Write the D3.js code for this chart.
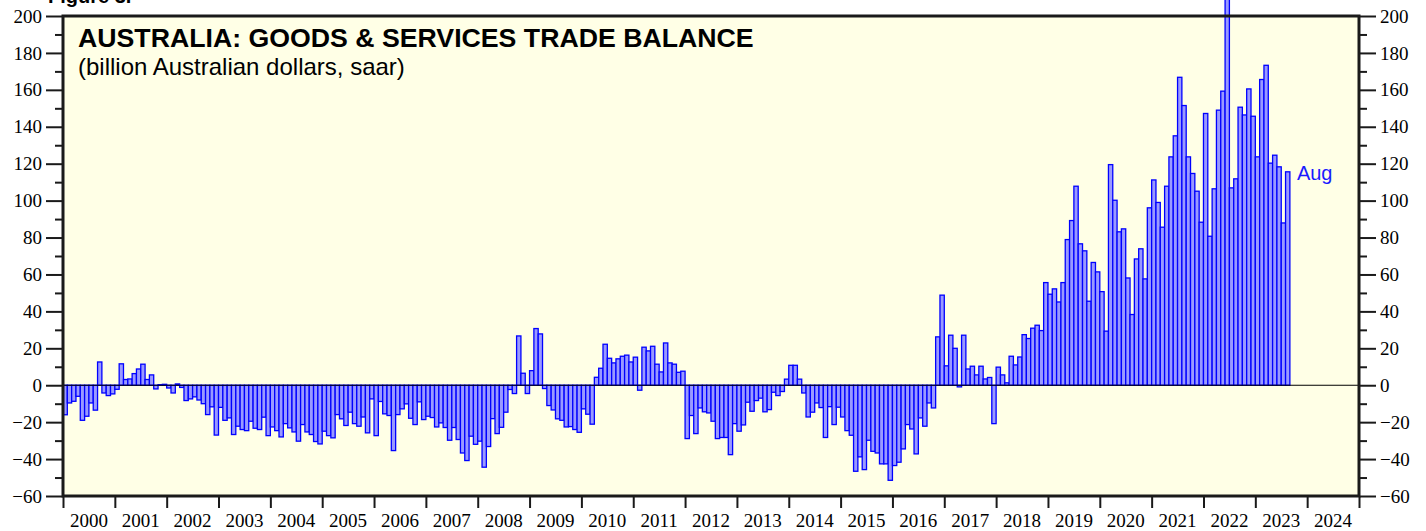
<!DOCTYPE html>
<html>
<head>
<meta charset="utf-8">
<script src="https://cdn.jsdelivr.net/npm/d3@7"></script>
<style>
html,body{margin:0;padding:0;background:#fff;}
svg{display:block;}
</style>
</head>
<body>
<svg id="chart" width="1426" height="531"></svg>
<script>
// ---- DATA ----
const startYear = 2000;            // first month is Jan 2000
const yearLabels = d3.range(2000, 2025).map(String);
const yTicks = [-60,-40,-20,0,20,40,60,80,100,120,140,160,180,200];
const lastLabel = "Aug";
// monthly balance, billion AUD saar, Jan 2000 .. Aug 2023
const balance2000_2004 = [
  -16,-9.6,-8.7,-6,-19,-16.8,-9.6,-13.5,12.6,-4.2,-5.6,-4.7,
  -2.2,11.6,3.1,3.4,6.3,8.8,11.4,3.1,5.6,-2,0.3,0.5,
  -1.5,-4.2,0.7,-1.2,-8.3,-7.4,-6.3,-8,-10,-15.9,-11.7,-27,
  -12,-19,-17.7,-26.7,-22.2,-24,-24.6,-19.5,-23.3,-24,-17.3,-27.3,
  -22.6,-24.6,-28,-20.8,-23.1,-25.3,-30.3,-21.3,-25.3,-26.7,-30.5,-31.8
];
const balance2005_2009 = [
  -24.9,-27.3,-28.5,-15.9,-18.2,-21.8,-14.6,-20.8,-22.2,-17.2,-25.8,-7.4,
  -27.3,-8.8,-15.5,-16.4,-35.4,-15.9,-12.8,-10.1,-17.9,-21.3,-9,-18.6,
  -16.8,-17.5,-22.6,-20.4,-22.9,-29.8,-22.9,-29.4,-36.7,-40.8,-27.6,-32,
  -30.3,-44.4,-33.2,-18.1,-26.2,-22.8,-14.6,-2.3,-4.5,26.7,6.5,-4.5,
  7.9,30.7,27.8,-1.8,-11,-13.4,-18.2,-19,-22.6,-22.4,-24,-25.5
];
const balance2010_2014 = [
  -12.8,-15.7,-21.1,4.3,9.2,22.2,14.6,12.1,14.3,15.7,16.3,12.6,
  15.2,-2.7,20.6,18.6,21.1,11.4,7.2,22.9,12.1,11.4,7,7.6,
  -28.9,-16.4,-26.2,-12.3,-14.4,-15,-19.5,-28.9,-28.3,-28.3,-37.6,-20.8,
  -24.9,-21.5,-9.2,-14.1,-8.3,-7,-14.4,-13.2,-3.8,-5.6,-3.4,3.3,
  10.8,10.8,3.3,-4.2,-17.2,-14.6,-9.6,-12.1,-28.3,-11.6,-21.3,-11.9
];
const balance2015_2019 = [
  -17.2,-24.6,-27.1,-46.6,-38.8,-45.7,-29.8,-35.8,-36.7,-42.6,-42.6,-51.5,
  -43.5,-41.7,-34.5,-21.3,-23.7,-37.2,-17.7,-22.2,-9.6,-12.3,26.2,48.8,
  10.5,27.1,20,-0.9,27.1,8.8,10.3,5.6,10.3,3.4,4.2,-20.8,
  9.8,5.6,1.3,15.7,11,15.3,27.4,25.3,30.9,32.5,29.6,55.6,
  49.3,52.2,45.1,55.6,78.9,89.2,107.8,76.6,72.8,45.5,66.5,61.4
];
const balance2020_2023 = [
  50.7,29.3,119.5,100.2,83.1,84.7,58.1,38.3,68.4,73.9,57.6,96.1,
  111.2,99,85.6,107.8,123.7,135.1,166.8,151.5,123.7,114.7,105.1,88.3,
  147.2,80.7,106.4,149,159.3,215,106.9,111.8,150.6,146.4,160.5,145.7,
  123.7,165.6,173.3,120.3,124.6,118.3,87.9,115.6
];
const balance = [].concat(balance2000_2004, balance2005_2009, balance2010_2014, balance2015_2019, balance2020_2023);

// ---- LAYOUT ----
const W = 1426, H = 531;
const L = 63, R = 1359, T = 16, B = 496;
const svg = d3.select("#chart");

const x = d3.scaleLinear().domain([2000, 2025]).range([L, R]);
const y = d3.scaleLinear().domain([-60, 200]).range([B, T]);

const serif = "'Liberation Serif','Times New Roman',serif";
const sans = "'Liberation Sans',Arial,Helvetica,sans-serif";

// figure caption (cut off at top of image)
svg.append("text").attr("x", 48).attr("y", 3)
  .attr("font-family", sans).attr("font-weight", "bold").attr("font-size", 20)
  .text("Figure 3.");

// plot background
svg.append("rect").attr("x", L).attr("y", T).attr("width", R - L).attr("height", B - T)
  .attr("fill", "#FFFFE6");

// bars
const mw = x(startYear + 1/12) - x(startYear);
svg.append("g").selectAll("rect").data(balance).join("rect")
  .attr("x", (d, i) => x(startYear + i / 12))
  .attr("width", mw)
  .attr("y", d => y(Math.max(0, d)))
  .attr("height", d => Math.abs(y(d) - y(0)))
  .attr("fill", "#9a9aff")
  .attr("stroke", "#0000ff")
  .attr("stroke-width", 1.3);

// zero line
svg.append("line").attr("x1", L).attr("x2", R).attr("y1", y(0)).attr("y2", y(0))
  .attr("stroke", "#000").attr("stroke-width", 1.2);

// axes
function styleAxis(g) {
  g.select(".domain").remove();
  g.selectAll("line").attr("stroke", "#1a1a1a").attr("stroke-width", 2);
  g.selectAll("text").attr("font-family", serif).attr("font-size", 19).attr("fill", "#000");
}
const minorVals = d3.range(-50, 200, 20);
svg.append("g").attr("transform", `translate(${L},0)`)
  .call(d3.axisLeft(y).tickValues(yTicks).tickSize(17).tickPadding(4).tickFormat(d3.format("d")))
  .call(styleAxis);
svg.append("g").attr("transform", `translate(${L},0)`)
  .call(d3.axisLeft(y).tickValues(minorVals).tickSize(8).tickFormat(""))
  .call(styleAxis);
svg.append("g").attr("transform", `translate(${R},0)`)
  .call(d3.axisRight(y).tickValues(yTicks).tickSize(17).tickPadding(4).tickFormat(d3.format("d")))
  .call(styleAxis);
svg.append("g").attr("transform", `translate(${R},0)`)
  .call(d3.axisRight(y).tickValues(minorVals).tickSize(8).tickFormat(""))
  .call(styleAxis);

// bottom: year boundary ticks + centered labels
svg.append("g").attr("transform", `translate(0,${B})`)
  .call(d3.axisBottom(x).tickValues(d3.range(2000, 2026)).tickSize(12).tickFormat(""))
  .call(styleAxis);
svg.append("g").selectAll("text").data(yearLabels).join("text")
  .attr("x", d => x(+d + 0.5))
  .attr("y", 527)
  .attr("text-anchor", "middle")
  .attr("font-family", serif).attr("font-size", 19)
  .text(d => d);

// frame
svg.append("rect").attr("x", L).attr("y", T).attr("width", R - L).attr("height", B - T)
  .attr("fill", "none").attr("stroke", "#1a1a1a").attr("stroke-width", 3);

// titles
svg.append("text").attr("x", 78).attr("y", 47)
  .attr("font-family", sans).attr("font-weight", "bold").attr("font-size", 26.7)
  .text("AUSTRALIA: GOODS & SERVICES TRADE BALANCE");
svg.append("text").attr("x", 78).attr("y", 75)
  .attr("font-family", sans).attr("font-size", 24)
  .text("(billion Australian dollars, saar)");

// last-point label
const lastIdx = balance.length - 1;
svg.append("text")
  .attr("x", x(startYear + (lastIdx + 1) / 12) + 7)
  .attr("y", y(balance[lastIdx]) + 8)
  .attr("font-family", sans).attr("font-size", 20).attr("fill", "#1a1aff")
  .text(lastLabel);
</script>
</body>
</html>
